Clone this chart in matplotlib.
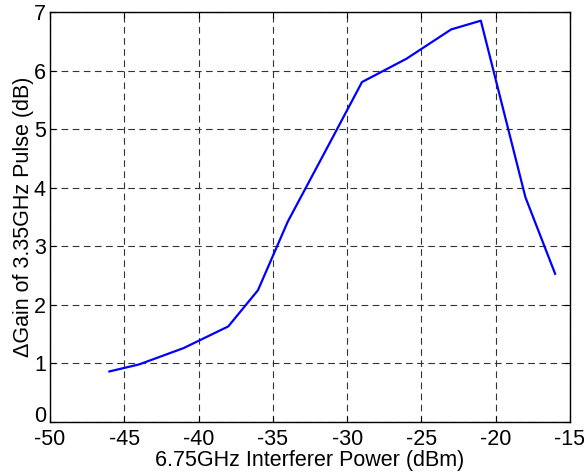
import matplotlib
matplotlib.use("Agg")
import matplotlib.pyplot as plt
import matplotlib.transforms as mtransforms

power_dbm = [-46, -44, -41, -38, -36, -34, -31, -29, -26, -23, -21, -18, -16]
delta_gain_db = [0.86, 0.98, 1.26, 1.63, 2.25, 3.42, 4.85, 5.81, 6.21, 6.71, 6.86, 3.84, 2.53]
xticks = [-50, -45, -40, -35, -30, -25, -20, -15]
yticks = [0, 1, 2, 3, 4, 5, 6, 7]

plt.rcParams['font.family'] = ['Liberation Sans', 'DejaVu Sans']

fig = plt.figure(figsize=(5.84, 4.75), dpi=100)
ax = fig.add_axes([0.0856, 0.1122, 0.8904, 0.8615])
ax.plot(power_dbm, delta_gain_db, color='#0000ff', linewidth=1.6, zorder=3)
ax.set_xlim(-50, -15)
ax.set_ylim(0, 7)
ax.set_xticks(xticks)
ax.set_yticks(yticks)
ax.set_xticklabels([str(v) for v in xticks])
ax.set_yticklabels([str(v) for v in yticks], va='center_baseline')
ax.grid(True, color='#333333', linestyle=(0, (6, 4)), linewidth=0.8)
ax.tick_params(direction='in', top=True, right=True, length=4, labelsize=15.5, width=0.8)
ax.tick_params(axis='x', pad=5)
ax.tick_params(axis='y', pad=3)
for s in ax.spines.values():
    s.set_linewidth(1.0)
ax.set_xlabel('6.75GHz Interferer Power (dBm)', fontsize=15.5, labelpad=0.5)
ax.set_ylabel('\u0394Gain of 3.35GHz Pulse (dB)', fontsize=15.5, labelpad=0)

# nudge the bottom y label up so it does not collide with the first x label
lbl0 = ax.get_yticklabels()[0]
lbl0.set_transform(lbl0.get_transform() + mtransforms.ScaledTranslation(0, 5.5 / 72, fig.dpi_scale_trans))

fig.savefig('out.png', dpi=100)
